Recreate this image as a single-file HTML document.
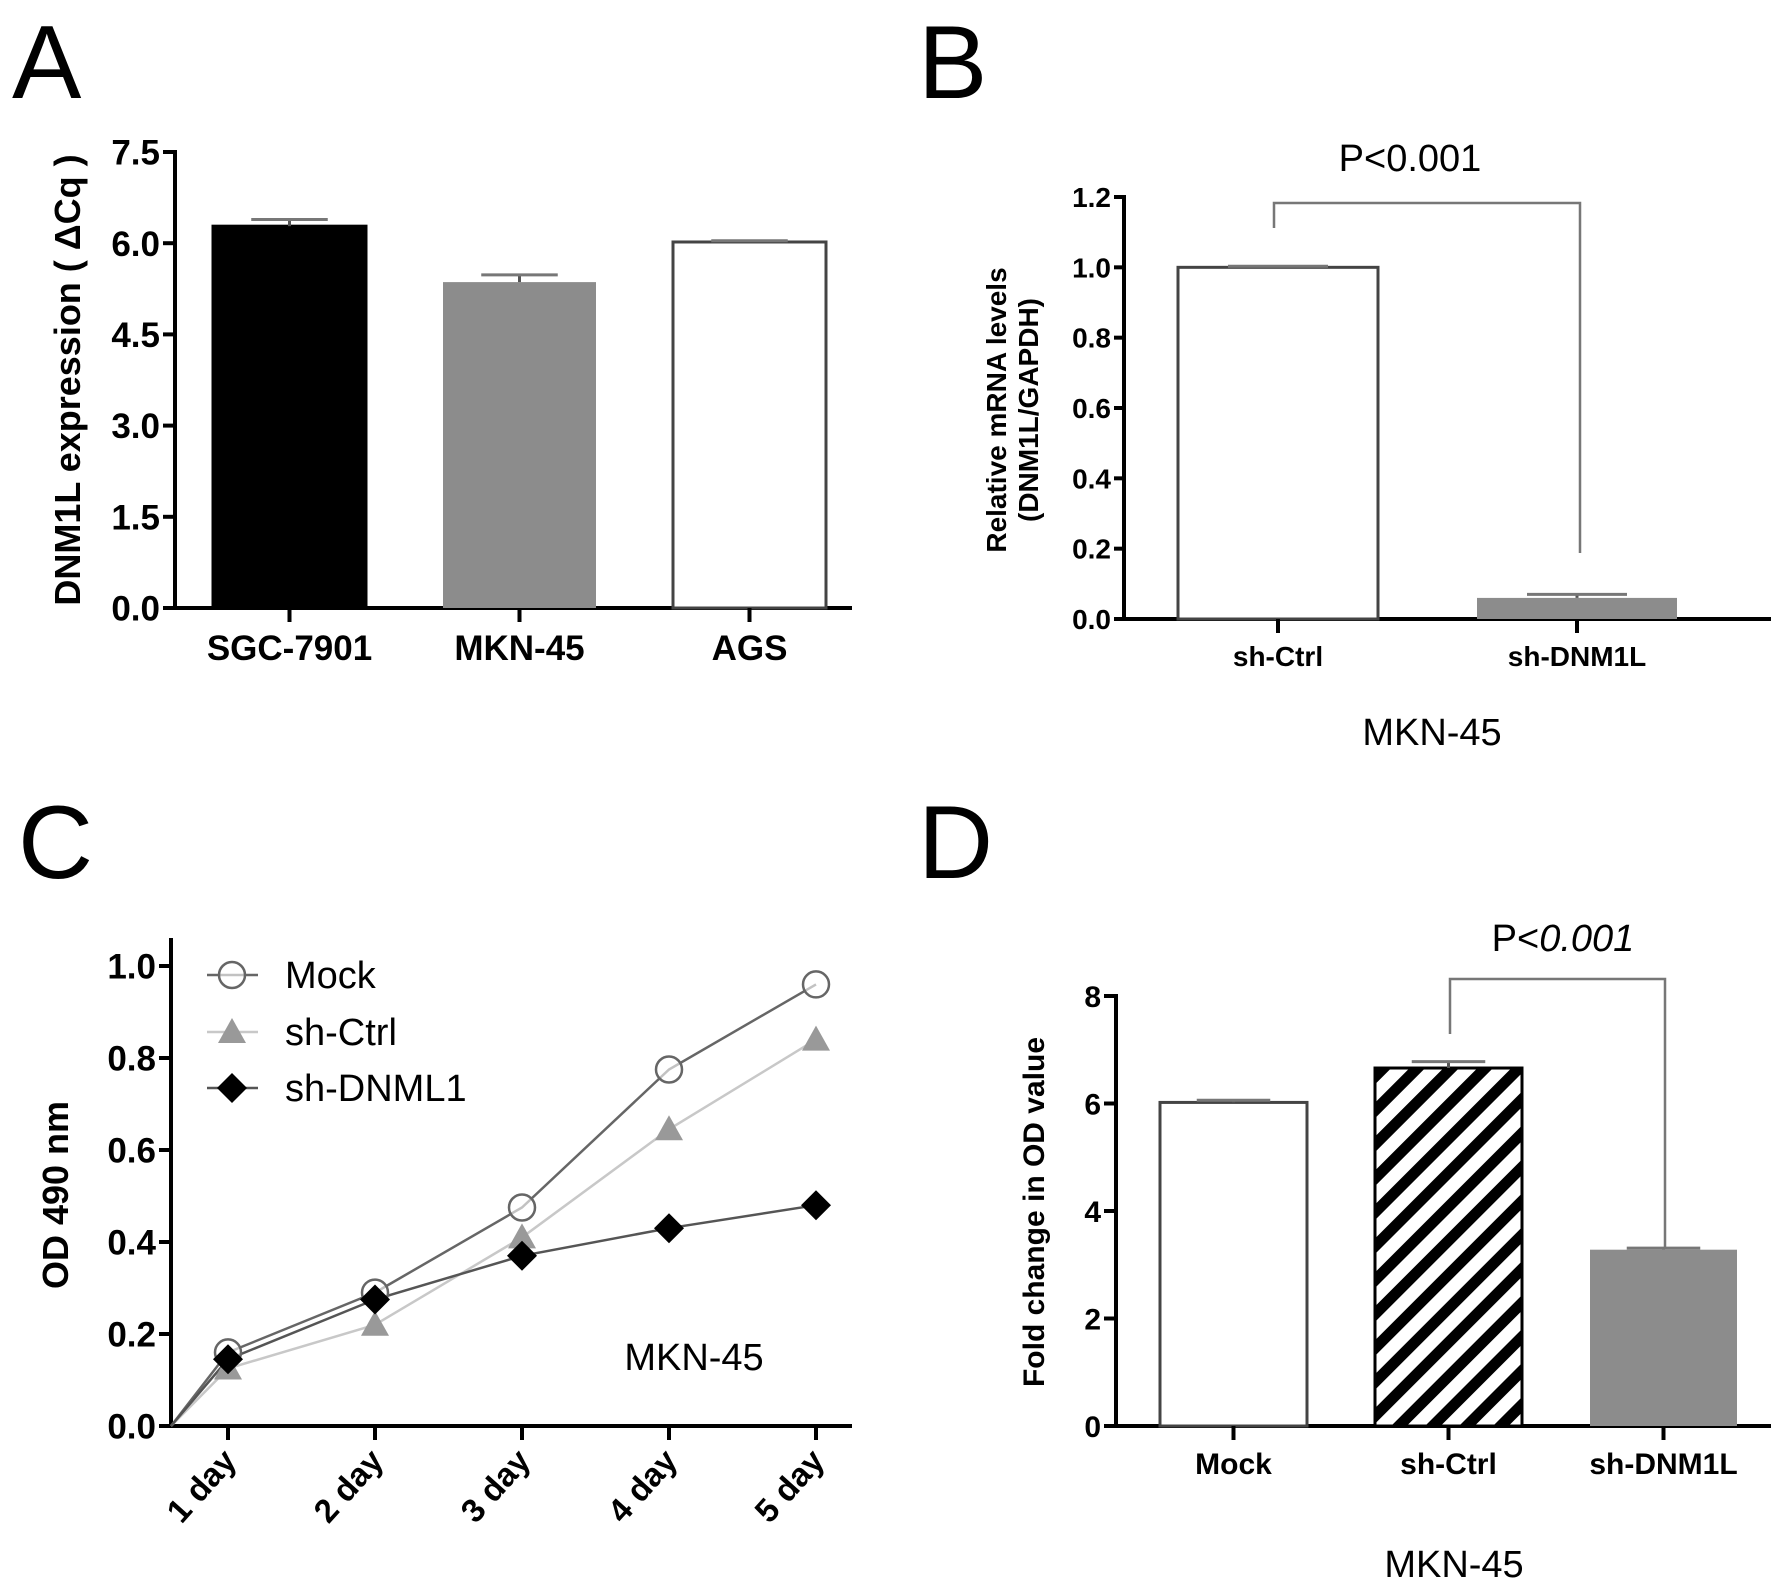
<!DOCTYPE html>
<html><head><meta charset="utf-8"><style>
html,body{margin:0;padding:0;background:#fff;}
svg{display:block;font-family:"Liberation Sans",Arial,sans-serif;}
</style></head><body>
<svg id="fig" width="1783" height="1587" viewBox="0 0 1783 1587" xmlns="http://www.w3.org/2000/svg">
<defs>
<pattern id="hatch" patternUnits="userSpaceOnUse" width="24" height="24" patternTransform="rotate(45)">
<rect width="24" height="24" fill="#fff"/><rect width="11" height="24" fill="#000"/>
</pattern>
</defs>
<g id="root"></g>
</svg>
<script>
// Panel A data
const aCats = ["SGC-7901","MKN-45","AGS"];
const aVals = [6.28, 5.36, 6.02];
const aErr = [0.11, 0.12, 0.02];
const aTicks = [0,1.5,3.0,4.5,6.0,7.5];
const aTickLabels = ["0.0","1.5","3.0","4.5","6.0","7.5"];
// Panel B data
const bCats = ["sh-Ctrl","sh-DNM1L"];
const bVals = [1.0, 0.06];
const bErr = [0.003, 0.01];
const bTicks = [0,0.2,0.4,0.6,0.8,1.0,1.2];
const bTickLabels = ["0.0","0.2","0.4","0.6","0.8","1.0","1.2"];
// Panel C data
const cDays = ["1 day","2 day","3 day","4 day","5 day"];
const cMock = [0.16,0.29,0.475,0.775,0.96];
const cCtrl = [0.125,0.22,0.41,0.645,0.84];
const cKd = [0.145,0.275,0.37,0.43,0.48];
const cTicks = [0,0.2,0.4,0.6,0.8,1.0];
const cTickLabels = ["0.0","0.2","0.4","0.6","0.8","1.0"];
// Panel D data
const dCats = ["Mock","sh-Ctrl","sh-DNM1L"];
const dVals = [6.02, 6.66, 3.28];
const dErr = [0.04, 0.12, 0.03];
const dTicks = [0,2,4,6,8];
const dTickLabels = ["0","2","4","6","8"];

const NS="http://www.w3.org/2000/svg";
const root=document.getElementById('root');
function mk(tag,attrs,parent,text){
  const e=document.createElementNS(NS,tag);
  for(const k in attrs)e.setAttribute(k,attrs[k]);
  if(text!==undefined)e.textContent=text;
  (parent||root).appendChild(e);return e;
}
function lin(d0,d1,r0,r1){return v=>r0+(v-d0)/(d1-d0)*(r1-r0);}

function letter(t,x,y){
  const e=mk('text',{x:x,y:y,'font-size':104});
  e.textContent=t;
  
  
}
letter('A',12,98);letter('B',918,98);letter('C',18,878);letter('D',918,878);

function yAxis(g,x,y0,y1,ys,ticks,labels,fs,tickLen,name){
  const ax=mk('line',{x1:x,y1:y0,x2:x,y2:y1-2,stroke:'#000','stroke-width':4},g);
  
  
  ticks.forEach((t,i)=>{
    mk('line',{x1:x-tickLen,y1:ys(t),x2:x,y2:ys(t),stroke:'#000','stroke-width':4},g);
    const tl=mk('text',{x:x-tickLen-3,y:ys(t)+fs*0.36,'font-size':fs,'font-weight':'bold','text-anchor':'end'},g,labels[i]);
    
    
  });
}
function xAxis(g,x0,x1,y,name){
  const ax=mk('line',{x1:x0-2,y1:y,x2:x1,y2:y,stroke:'#000','stroke-width':4},g);
  
  
}
function yTitle(g,lines,cx,cy,fs,name){
  lines.forEach((l,i)=>{
    const t=mk('text',{x:0,y:0,'font-size':fs,'font-weight':'bold','text-anchor':'middle',
      transform:`translate(${cx+i*fs*1.15},${cy}) rotate(-90)`},g,l);
    
    
  });
}
function bars(g,cats,vals,errs,ys,x0,step,bw,fills,strokes,labelY,fs,name,y0px){
  cats.forEach((c,i)=>{
    const left=x0+i*step, cx=left+bw/2, top=ys(vals[i]);
    const r=mk('rect',{x:left,y:top,width:bw,height:y0px-top,fill:fills[i],stroke:strokes[i],'stroke-width':3},g);
    
    
    const et=ys(vals[i]+errs[i]);
    mk('line',{x1:cx,y1:top,x2:cx,y2:et,stroke:'#555','stroke-width':3},g);
    mk('line',{x1:cx-bw*0.25,y1:et,x2:cx+bw*0.25,y2:et,stroke:'#777','stroke-width':3},g);
    mk('line',{x1:cx,y1:y0px,x2:cx,y2:y0px+14,stroke:'#000','stroke-width':4},g);
    const t=mk('text',{x:cx,y:labelY,'font-size':fs,'font-weight':'bold','text-anchor':'middle'},g,c);
    
    
  });
}

// ---- Panel A
const gA=mk('g',{});


const yA=lin(0,7.5,608,152);
yAxis(gA,175,608,152,yA,aTicks,aTickLabels,35,12,'panel-a');
xAxis(gA,175,852,608,'panel-a');
bars(gA,aCats,aVals,aErr,yA,213,230,153,['#000','#8c8c8c','#fff'],['#000','none','#444'],660,35,'panel-a',608);
yTitle(gA,['DNM1L expression ( ΔCq )'],80,380,36,'panel-a');

// ---- Panel B
const gB=mk('g',{});


const yB=lin(0,1.2,619,197);
yAxis(gB,1124,619,197,yB,bTicks,bTickLabels,28,10,'panel-b');
xAxis(gB,1124,1771,619,'panel-b');
bars(gB,bCats,bVals,bErr,yB,1178,299,200,['#fff','#8c8c8c'],['#444','none'],666,28,'panel-b',619);
yTitle(gB,['Relative mRNA levels','(DNM1L/GAPDH)'],1006,410,28,'panel-b');
mk('polyline',{points:'1274,228 1274,203 1580,203 1580,553',fill:'none',stroke:'#777','stroke-width':2.5},gB);
const pB=mk('text',{x:1410,y:171,'font-size':38,'text-anchor':'middle'},gB,'P<0.001');


const mB=mk('text',{x:1432,y:745,'font-size':38,'text-anchor':'middle'},gB,'MKN-45');



// ---- Panel C
const gC=mk('g',{});


const yC=lin(0,1.0,1426,966);
const xC=lin(0,4,228,816);
yAxis(gC,171,1426,940,yC,cTicks,cTickLabels,35,12,'panel-c');
xAxis(gC,171,852,1426,'panel-c');
cDays.forEach((d,i)=>{
  const x=xC(i);
  mk('line',{x1:x,y1:1426,x2:x,y2:1440,stroke:'#000','stroke-width':4},gC);
  const t=mk('text',{x:0,y:0,'font-size':33,'font-weight':'bold','text-anchor':'end',
    transform:`translate(${x+10},${1462}) rotate(-48)`},gC,d);
  
  
});
yTitle(gC,['OD 490 nm'],68,1195,36,'panel-c');
function series(vals,color,name){
  const pts=[[171,1426]].concat(vals.map((v,i)=>[xC(i),yC(v)]));
  const l=mk('polyline',{points:pts.map(p=>p.join(',')).join(' '),fill:'none',stroke:color,'stroke-width':2.5},gC);
  
  
}
function marker(type,x,y,name){
  let m;
  if(type==='circle')m=mk('circle',{cx:x,cy:y,r:13,fill:'#fff','fill-opacity':0.6,stroke:'#666','stroke-width':2.5},gC);
  else if(type==='tri')m=mk('polygon',{points:`${x},${y-14} ${x+14},${y+11} ${x-14},${y+11}`,fill:'#999'},gC);
  else m=mk('polygon',{points:`${x},${y-15} ${x+15},${y} ${x},${y+15} ${x-15},${y}`,fill:'#000'},gC);
  
  
}
series(cMock,'#666','mock');series(cCtrl,'#c8c8c8','sh-ctrl');series(cKd,'#555','sh-dnml1');
cMock.forEach((v,i)=>marker('circle',xC(i),yC(v),'mock'));
cCtrl.forEach((v,i)=>marker('tri',xC(i),yC(v),'sh-ctrl'));
cKd.forEach((v,i)=>marker('dia',xC(i),yC(v),'sh-dnml1'));
const leg=[['Mock','circle','#666',975],['sh-Ctrl','tri','#c8c8c8',1032],['sh-DNML1','dia','#555',1088]];
leg.forEach(L=>{
  mk('line',{x1:207,y1:L[3],x2:258,y2:L[3],stroke:L[2],'stroke-width':2.5},gC);
  marker(L[1],232,L[3],'legend');
  const t=mk('text',{x:285,y:L[3]+13,'font-size':38},gC,L[0]);
  
  
});
const mC=mk('text',{x:694,y:1370,'font-size':38,'text-anchor':'middle'},gC,'MKN-45');



// ---- Panel D
const gD=mk('g',{});


const yD=lin(0,8,1426,996);
yAxis(gD,1116,1426,996,yD,dTicks,dTickLabels,30,12,'panel-d');
xAxis(gD,1116,1771,1426,'panel-d');
bars(gD,dCats,dVals,dErr,yD,1160,215,147,['#fff','url(#hatch)','#8c8c8c'],['#444','#000','none'],1474,30,'panel-d',1426);
yTitle(gD,['Fold change in OD value'],1044,1212,30,'panel-d');
mk('polyline',{points:'1450,1034 1450,979 1665,979 1665,1249',fill:'none',stroke:'#777','stroke-width':2.5},gD);
const pD=mk('text',{x:1563,y:951,'font-size':38,'text-anchor':'middle'},gD);
mk('tspan',{},pD,'P<');
mk('tspan',{'font-style':'italic'},pD,'0.001');


const mD=mk('text',{x:1454,y:1577,'font-size':38,'text-anchor':'middle'},gD,'MKN-45');


</script>
</body></html>
